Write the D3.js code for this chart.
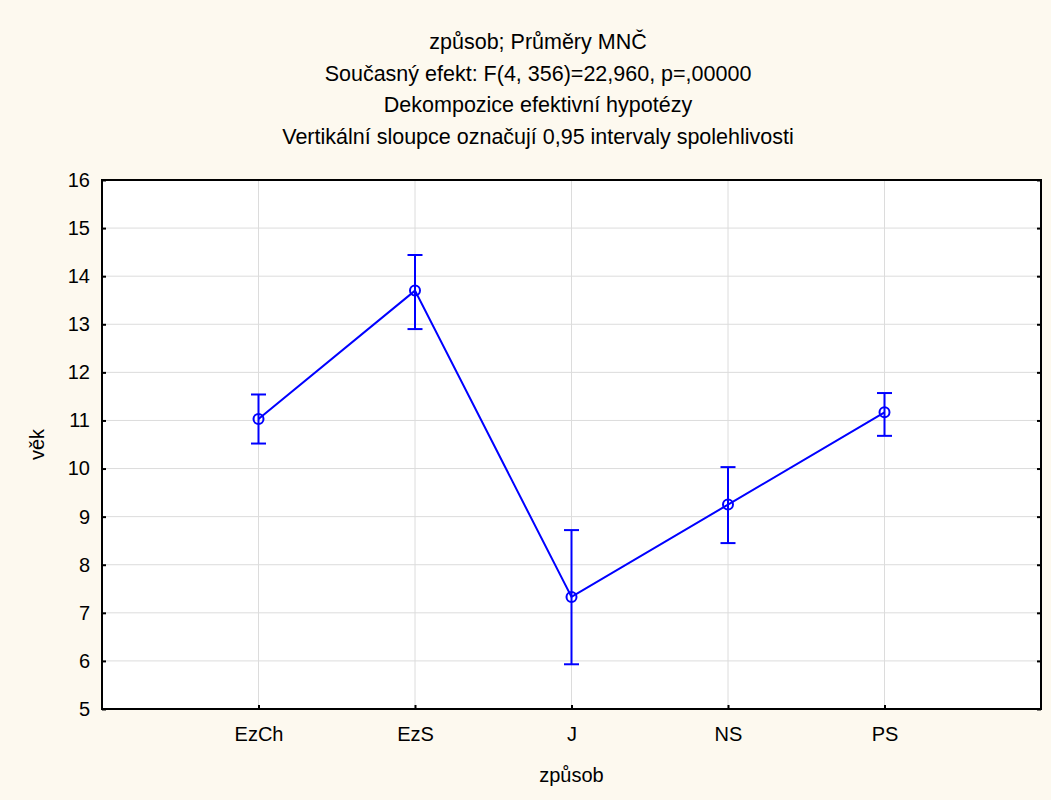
<!DOCTYPE html>
<html><head><meta charset="utf-8">
<script src="https://cdn.jsdelivr.net/npm/d3@7"></script>
<style>body{margin:0;background:#fdf9ef;} svg{display:block;font-family:"Liberation Sans",Arial,sans-serif;}</style>
</head><body>
<svg id="c" width="1051" height="800"></svg>
<script>
const categories = ["EzCh","EzS","J","NS","PS"];
const means = [11.03, 13.70, 7.33, 9.25, 11.17];
const upper = [11.54, 14.44, 8.72, 10.03, 11.57];
const lower = [10.52, 12.90, 5.93, 8.45, 10.68];
const yTicks = [5,6,7,8,9,10,11,12,13,14,15,16];
const titleLines = ["způsob; Průměry MNČ","Současný efekt: F(4, 356)=22,960, p=,00000","Dekompozice efektivní hypotézy","Vertikální sloupce označují 0,95 intervaly spolehlivosti"];
const xTitle = "způsob", yTitle = "věk";

const svg = d3.select("#c");
const L=102,R=1041,T=180,B=709;
svg.append("rect").attr("width",1051).attr("height",800).attr("fill","#fdf9ef");
svg.append("rect").attr("x",L).attr("y",T).attr("width",R-L).attr("height",B-T).attr("fill","#fff");
const x = d3.scaleLinear().domain([0,categories.length+1]).range([L,R]);
const y = d3.scaleLinear().domain([5,16]).range([B,T]);
const idx = categories.map((c,i)=>i+1);
// grid
svg.append("g").selectAll("line").data(yTicks.slice(1,-1)).join("line")
 .attr("x1",L).attr("x2",R).attr("y1",d=>y(d)).attr("y2",d=>y(d)).attr("stroke","#dcdcdc").attr("stroke-width",1);
svg.append("g").selectAll("line").data(idx).join("line")
 .attr("y1",T).attr("y2",B).attr("x1",d=>x(d)).attr("x2",d=>x(d)).attr("stroke","#dcdcdc").attr("stroke-width",1);
// axes
const ya = svg.append("g").attr("transform",`translate(${L},0)`).call(d3.axisLeft(y).tickValues(yTicks).tickSize(-4).tickPadding(12).tickFormat(d3.format("d")));
ya.select(".domain").remove();
ya.selectAll("text").attr("font-size",20).attr("fill","#000").attr("font-family","Liberation Sans, Arial");
ya.selectAll("line").attr("stroke","#000").attr("stroke-width",2);
const yr = svg.append("g").attr("transform",`translate(${R},0)`).call(d3.axisRight(y).tickValues(yTicks).tickSize(-4).tickFormat(""));
yr.select(".domain").remove(); yr.selectAll("line").attr("stroke","#000").attr("stroke-width",2);
const xa = svg.append("g").attr("transform",`translate(0,${B})`).call(d3.axisBottom(x).tickValues(idx).tickSize(-4).tickPadding(18).tickFormat(d=>categories[d-1]));
xa.select(".domain").remove();
xa.selectAll("text").attr("font-size",20).attr("fill","#000").attr("font-family","Liberation Sans, Arial");
xa.selectAll("line").attr("stroke","#000").attr("stroke-width",2);
svg.append("rect").attr("x",L).attr("y",T).attr("width",R-L).attr("height",B-T).attr("fill","none").attr("stroke","#000").attr("stroke-width",2);
// line
const data = categories.map((c,i)=>({i:i+1,m:means[i],u:upper[i],l:lower[i]}));
svg.append("path").datum(data).attr("fill","none").attr("stroke","#0000ff").attr("stroke-width",2)
 .attr("d",d3.line().x(d=>x(d.i)).y(d=>y(d.m)));
const eb = svg.append("g").attr("stroke","#0000ff").attr("stroke-width",2);
eb.selectAll(".v").data(data).join("line").attr("x1",d=>x(d.i)).attr("x2",d=>x(d.i)).attr("y1",d=>y(d.u)).attr("y2",d=>y(d.l));
eb.selectAll(".u").data(data).join("line").attr("x1",d=>x(d.i)-7.5).attr("x2",d=>x(d.i)+7.5).attr("y1",d=>y(d.u)).attr("y2",d=>y(d.u));
eb.selectAll(".l").data(data).join("line").attr("x1",d=>x(d.i)-7.5).attr("x2",d=>x(d.i)+7.5).attr("y1",d=>y(d.l)).attr("y2",d=>y(d.l));
svg.append("g").selectAll("circle").data(data).join("circle").attr("cx",d=>x(d.i)).attr("cy",d=>y(d.m)).attr("r",5)
 .attr("fill","none").attr("stroke","#0000ff").attr("stroke-width",2);
// titles
svg.append("g").selectAll("text").data(titleLines).join("text").attr("x",538).attr("y",(d,i)=>49+i*31.5)
 .attr("text-anchor","middle").attr("font-size",21.5).attr("fill","#000").text(d=>d);
svg.append("text").attr("x",(L+R)/2).attr("y",782).attr("text-anchor","middle").attr("font-size",20).text(xTitle);
svg.append("text").attr("transform",`translate(44,${(T+B)/2}) rotate(-90)`).attr("text-anchor","middle").attr("font-size",20).text(yTitle);
</script>
</body></html>
